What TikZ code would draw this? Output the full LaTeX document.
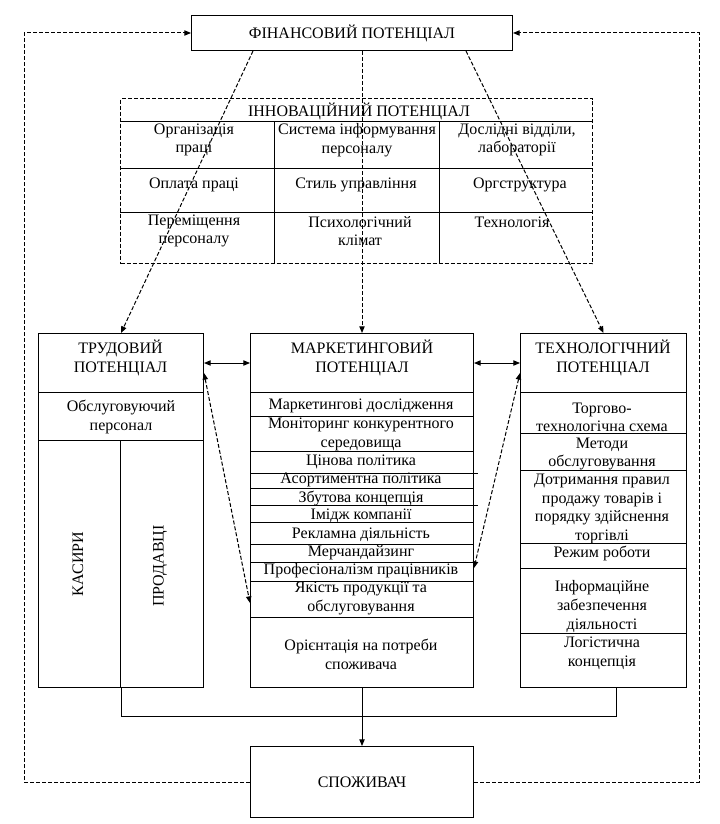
\documentclass[tikz,border=0pt]{standalone}
\usepackage{fontspec}
\setmainfont{Liberation Serif}
\usetikzlibrary{arrows.meta,calc}

\begin{document}
\begin{tikzpicture}[x=0.75pt, y=-0.75pt, line width=0.75pt,
        font=\fontsize{12}{13.9}\selectfont,
        >={Triangle[length=5pt,width=4pt]},
        box/.style={draw, inner sep=0pt, anchor=north west},
        txt/.style={inner sep=0pt, align=center},
        dline/.style={dash pattern=on 3pt off 1.5pt}]
        \useasboundingbox (0,0) rectangle (720,824);
        % financial potential and consumer
        \node[box, minimum width=240.75pt, minimum height=26.25pt] (fin) at (191,15) {ФІНАНСОВИЙ ПОТЕНЦІАЛ};
        \node[box, minimum width=167.25pt, minimum height=53.25pt] (spoz) at (250,746) {СПОЖИВАЧ};
        % innovation table
        \node[box, dline, minimum width=354pt, minimum height=123.75pt] (inno) at (120,98) {};
        \node[txt] (inno0) at (359,111) {ІННОВАЦІЙНИЙ ПОТЕНЦІАЛ};
        \draw (120,121) -- (592,121);
        \draw (120,168) -- (592,168);
        \draw (120,212) -- (592,212);
        \draw (274,121) -- (274,263);
        \draw (439,121) -- (439,263);
        \node[txt] (i11) at (194,140) {Організація\\праці};
        \node[txt] (i12) at (357,140) {Система інформування\\персоналу};
        \node[txt] (i13) at (517,140) {Дослідні відділи,\\лабораторії};
        \node[txt] (i21) at (194,185) {Оплата праці};
        \node[txt] (i22) at (356,185) {Стиль управління};
        \node[txt] (i23) at (520,185) {Оргструктура};
        \node[txt] (i31) at (194,231) {Переміщення\\персоналу};
        \node[txt] (i32) at (360,231) {Психологічний\\клімат};
        \node[txt] (i33) at (512,222) {Технологія};
        % labour potential
        \node[box, minimum width=123.75pt, minimum height=265.5pt] (trud) at (38,333) {};
        \node[txt] (trud0) at (120.5,358) {ТРУДОВИЙ\\ПОТЕНЦІАЛ};
        \draw (38,392) -- (203,392);
        \node[txt] (trud1) at (121,417) {Обслуговуючий\\персонал};
        \draw (38,440) -- (203,440);
        \draw (120.5,440) -- (120.5,687);
        \node[txt, rotate=90] (kas) at (78,564) {КАСИРИ};
        \node[txt, rotate=90] (prod) at (160,566) {ПРОДАВЦІ};
        % marketing potential
        \node[box, minimum width=167.25pt, minimum height=265.5pt] (mark) at (250,333) {};
        \node[txt] (mark0) at (362,358) {МАРКЕТИНГОВИЙ\\ПОТЕНЦІАЛ};
        \draw (250,392) -- (473,392);
        \draw (250,416) -- (473,416);
        \draw (250,451) -- (473,451);
        \draw (250,473) -- (478,473);
        \draw (250,488) -- (473,488);
        \draw (250,505) -- (478,505);
        \draw (250,522) -- (473,522);
        \draw (250,544) -- (473,544);
        \draw (250,562) -- (473,562);
        \draw (250,581) -- (473,581);
        \draw (250,617) -- (473,617);
        \node[txt] (m1) at (361,406) {Маркетингові дослідження};
        \node[txt] (m2) at (361,434.5) {Моніторинг конкурентного\\середовища};
        \node[txt] (m3) at (361,462) {Цінова політика};
        \node[txt] (m4) at (361,480) {Асортиментна політика};
        \node[txt] (m5) at (361,498) {Збутова концепція};
        \node[txt] (m6) at (361,516) {Імідж компанії};
        \node[txt] (m7) at (361,535) {Рекламна діяльність};
        \node[txt] (m8) at (361,553) {Мерчандайзинг};
        \node[txt] (m9) at (361,571) {Професіоналізм працівників};
        \node[txt] (m10) at (361,598.5) {Якість продукції та\\обслуговування};
        \node[txt] (m11) at (361,654.5) {Орієнтація на потреби\\споживача};
        % technological potential
        \node[box, minimum width=124.5pt, minimum height=265.5pt] (tech) at (520,333) {};
        \node[txt] (tech0) at (603,358) {ТЕХНОЛОГІЧНИЙ\\ПОТЕНЦІАЛ};
        \draw (520,392) -- (686,392);
        \draw (520,433) -- (686,433);
        \draw (520,470) -- (686,470);
        \draw (520,543) -- (686,543);
        \draw (520,568) -- (686,568);
        \draw (520,633) -- (686,633);
        \node[txt] (t1) at (602,417.5) {Торгово-\\технологічна схема};
        \node[txt] (t2) at (602,454) {Методи\\обслуговування};
        \node[txt] (t3) at (602,509) {Дотримання правил\\продажу товарів і\\порядку здійснення\\торгівлі};
        \node[txt] (t4) at (602,553) {Режим роботи};
        \node[txt] (t5) at (602,606.5) {Інформаційне\\забезпечення\\діяльності};
        \node[txt] (t6) at (602,653.5) {Логістична\\концепція};
        % links
        \draw[dline, ->] ($(fin.south west)+(62,0)$) -- (trud.north);
        \draw[dline, ->] (fin.south -| mark.north) -- (mark.north);
        \draw[dline, ->] ($(fin.south east)+(-47,0)$) -- (tech.north);
        \draw[<->] ($(trud.north east)+(0,30)$) -- ($(mark.north west)+(0,30)$);
        \draw[<->] ($(mark.north east)+(0,30)$) -- ($(tech.north west)+(0,30)$);
        \draw[dline, <->] ($(trud.north east)+(0,40)$) -- ($(mark.north west)+(0,270)$);
        \draw[dline, <->] ($(tech.north west)+(0,40)$) -- ($(mark.north east)+(0,235)$);
        \draw (trud.south) -- ++(0,28) -| ($(tech.south)+(13,0)$);
        \draw[->] (mark.south) -- (spoz.north);
        \draw[dline, ->] (spoz.west) -| ($(fin.west)+(-167,0)$) -- (fin.west);
        \draw[dline, ->] (spoz.east) -| ($(fin.east)+(186,0)$) -- (fin.east);
\end{tikzpicture}
\end{document}
